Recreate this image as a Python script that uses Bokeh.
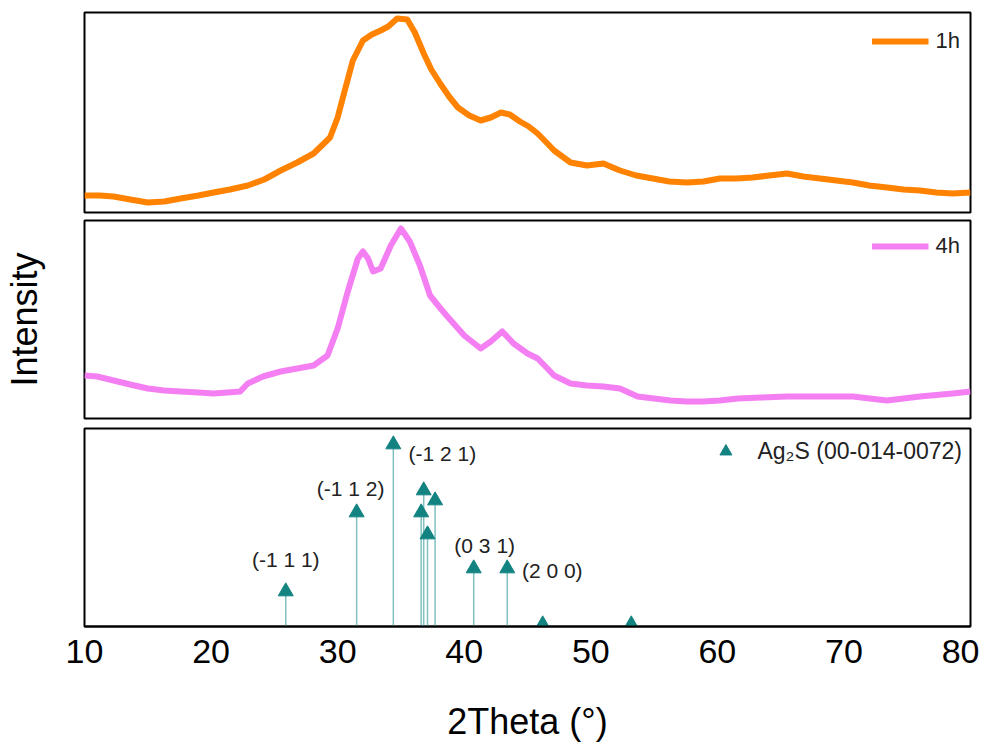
from bokeh.plotting import figure
from bokeh.models import Range1d, Legend, LegendItem, FixedTicker
from bokeh.layouts import column
from bokeh.embed import file_html
from bokeh.resources import INLINE

# ---------------- data ----------------
two_theta_1h = [10, 11.2, 12.3, 13.6, 15, 16.3, 17.6, 19, 20.2, 21.5, 22.9, 24.2, 25.5, 26.8, 28.1,
                29.4, 30.0, 30.5, 31.2, 32, 32.7, 33.4, 34.0, 34.7, 35.5, 36.1, 36.8, 37.4, 38.1,
                38.8, 39.5, 40.4, 41.3, 42.1, 42.9, 43.6, 44.4, 45.1, 45.8, 46.5, 47.1, 48.4,
                49.7, 51, 52.3, 53.6, 54.9, 56.2, 57.6, 58.9, 60.2, 61.5, 62.8, 64.1, 65.5,
                66.8, 68.1, 69.4, 70.7, 72, 73.4, 74.7, 76, 77.3, 78.6, 80]
intensity_1h = [17, 17, 16, 13, 10, 11, 14, 17, 20, 23, 27, 33, 42, 50, 59,
                75, 95, 119, 152, 172, 178, 182, 186, 194, 193, 180, 159, 143, 129,
                116, 105, 97, 92, 95, 100, 98, 91, 86, 79, 70, 62, 50,
                47, 49, 42, 37, 34, 31, 30, 31, 34, 34, 35, 37, 39,
                36, 34, 32, 30, 27, 25, 23, 22, 20, 19, 20]

two_theta_4h = [10, 11, 12.3, 13.6, 15, 16.3, 17.6, 19, 20.2, 21.3, 22.3, 22.9, 24.1, 25.5, 26.8,
                28.1, 29.2, 30, 30.8, 31.6, 32, 32.4, 32.8, 33.4, 34.2, 35, 35.7, 36.5, 37.3,
                38.0, 38.6, 39.3, 40, 40.7, 41.3, 42.1, 43, 43.9, 45, 45.8, 46.5, 47.1, 48.4,
                49.7, 51, 52.3, 53.7, 55, 56.3, 57.6, 58.9, 60.2, 61.6, 63.5, 65.5, 68.1,
                70.7, 73.4, 76, 78.6, 80]
intensity_4h = [43, 42, 38, 34, 30, 28, 27, 26, 25, 26, 27, 35, 42, 47, 50,
                53, 63, 90, 127, 160, 167, 160, 147, 150, 173, 190, 177, 153, 123,
                112, 103, 93, 83, 76, 70, 77, 87, 75, 65, 60, 51, 43, 35,
                33, 32, 30, 22, 20, 18, 17, 17, 18, 20, 21, 22, 22,
                22, 18, 22, 25, 27]

ref_pos = [25.9, 31.5, 34.4, 36.6, 36.8, 37.1, 37.7, 40.75, 43.4, 46.2, 53.2]
ref_int = [35, 114, 182, 114, 136, 92, 126, 58, 58, 2, 2]
ref_hkl = ["(-1 1 1)", "(-1 1 2)", "(-1 2 1)", "", "", "", "", "(0 3 1)", "(2 0 0)", "", ""]

x_ticks = [10, 20, 30, 40, 50, 60, 70, 80]
series_names = ["1h", "4h", "Ag\u2082S (00-014-0072)"]

# ---------------- styles ----------------
FONT = "Liberation Sans"
ORANGE = "#ff8300"
PINK = "#f47ff2"
TEAL = "#138382"
TEAL_LIGHT = "#80c0c0"
label_dx = {"(-1 1 1)": 0, "(-1 1 2)": -6, "(-1 2 1)": 49, "(0 3 1)": 11, "(2 0 0)": 45}
label_dy = {"(-1 1 1)": -32, "(-1 1 2)": -24, "(-1 2 1)": 9, "(0 3 1)": -23, "(2 0 0)": 2}

x_range = Range1d(10, 80)


def base_fig(frame_h, top, bottom, y_max):
    p = figure(frame_width=886, frame_height=frame_h, x_range=x_range,
               y_range=Range1d(0, y_max), output_backend="svg", toolbar_location=None,
               min_border_left=83, min_border_right=10, min_border_top=top,
               min_border_bottom=bottom)
    p.outline_line_color = "black"
    p.outline_line_width = 2
    p.xgrid.visible = False
    p.ygrid.visible = False
    p.background_fill_color = "white"
    return p


def style_legend(p, items, glyph_w, glyph_h, standoff, margin, padding, fsize):
    leg = Legend(items=items, location="top_right", glyph_width=glyph_w, glyph_height=glyph_h,
                 label_standoff=standoff, label_text_font=FONT, label_text_font_size=fsize,
                 label_text_color="#222222", border_line_color=None, background_fill_alpha=0,
                 margin=margin, padding=padding)
    p.add_layout(leg)


# panel 1 (1h)
p1 = base_fig(200, 12, 4, 200)
r1 = p1.line(two_theta_1h, intensity_1h, line_color=ORANGE, line_width=6, line_join="round")
p1.xaxis.visible = False
p1.yaxis.visible = False
style_legend(p1, [LegendItem(label=series_names[0], renderers=[r1])], 57, 38, 7, 10, 10, "22px")

# panel 2 (4h)
p2 = base_fig(198, 4, 5, 198)
r2 = p2.line(two_theta_4h, intensity_4h, line_color=PINK, line_width=6, line_join="round")
p2.xaxis.visible = False
p2.yaxis.ticker = FixedTicker(ticks=[])
p2.yaxis.axis_line_color = None
p2.yaxis.major_tick_line_color = None
p2.yaxis.minor_tick_line_color = None
p2.yaxis.axis_label = "Intensity"
p2.yaxis.axis_label_text_font = FONT
p2.yaxis.axis_label_text_font_size = "36px"
p2.yaxis.axis_label_text_font_style = "normal"
p2.yaxis.axis_label_text_color = "black"
p2.yaxis.axis_label_standoff = 40
style_legend(p2, [LegendItem(label=series_names[1], renderers=[r2])], 57, 32, 7, 10, 10, "22px")

# panel 3 (reference sticks)
p3 = base_fig(198, 5, 114, 198)
p3.segment(x0=ref_pos, y0=[0] * len(ref_pos), x1=ref_pos, y1=ref_int,
           line_color=TEAL_LIGHT, line_width=1.5)
r3 = p3.scatter(ref_pos, ref_int, marker="triangle", size=15, fill_color=TEAL, line_color=TEAL)
lab_x = [x for x, t in zip(ref_pos, ref_hkl) if t]
lab_y = [y for y, t in zip(ref_int, ref_hkl) if t]
lab_t = [t for t in ref_hkl if t]
p3.text(x=lab_x, y=lab_y, text=lab_t,
        x_offset=[label_dx[t] for t in lab_t], y_offset=[label_dy[t] for t in lab_t],
        text_align="center", text_baseline="middle", text_font_size="21px",
        text_color="#222222", text_font={"value": FONT})
p3.yaxis.visible = False
ax = p3.xaxis[0]
ax.ticker = FixedTicker(ticks=x_ticks)
ax.major_tick_line_color = None
ax.minor_tick_line_color = None
ax.axis_line_color = "black"
ax.axis_line_width = 2
ax.major_label_text_font = FONT
ax.major_label_text_font_size = "34px"
ax.major_label_text_color = "black"
ax.major_label_standoff = 7
ax.axis_label = "2Theta (\u00b0)"
ax.axis_label_text_font = FONT
ax.axis_label_text_font_size = "36px"
ax.axis_label_text_font_style = "normal"
ax.axis_label_text_color = "black"
ax.axis_label_standoff = 35
style_legend(p3, [LegendItem(label=series_names[2], renderers=[r3])], 36, 30, 14, 8, 0, "23px")

layout = column(p1, p2, p3, spacing=0)
open("out.html", "w").write(file_html(layout, INLINE))
